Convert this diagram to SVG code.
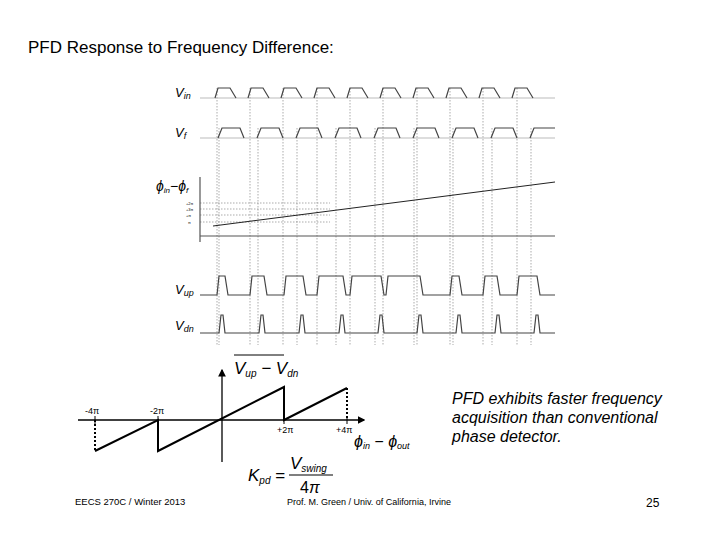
<svg xmlns="http://www.w3.org/2000/svg" width="720" height="540" viewBox="0 0 720 540">
<style>
text{font-family:"Liberation Sans",Arial,sans-serif;fill:#000}
.w{fill:none;stroke:#444;stroke-width:1.2}
.b{fill:none;stroke:#bbb;stroke-width:1}
.d{fill:none;stroke:#888;stroke-width:0.7;stroke-dasharray:1.5 1.5}
.k{fill:none;stroke:#000;stroke-width:2}
.i{font-style:italic}
</style>
<defs>
<marker id="ar" markerWidth="6" markerHeight="6" refX="5" refY="3" orient="auto"><path d="M0,0L6,3L0,6z" fill="#000"/></marker>
</defs>
<rect width="720" height="540" fill="#fff"/>
<text x="28" y="53" font-size="17">PFD Response to Frequency Difference:</text>
<g id="guides">
<path class="d" d="M217,88V345M250,88V345M283,88V345M317,88V345M350,88V345M383,88V345M417,88V345M450,88V345M483,88V345M517,88V345M219,128V345M258,128V345M297,128V345M336,128V345M375,128V345M414,128V345M453,128V345M492,128V345M531,128V345"/>
<path class="d" d="M200,203H330M200,209H330M200,215H330M200,222H330"/>
</g>
<g id="vin">
<text x="175" y="97" font-size="13" class="i">V<tspan font-size="9" dy="2">in</tspan></text>
<path class="b" d="M200,98H555"/>
<path class="w" d="M215,98L218,88H230L236,98M248,98L251,88H263L269,98M281,98L284,88H296L302,98M314,98L317,88H329L335,98M347,98L350,88H362L368,98M380,98L383,88H395L401,98M413,98L416,88H428L434,98M446,98L449,88H461L467,98M479,98L482,88H494L500,98M512,98L515,88H527L533,98"/>
</g>
<g id="vf">
<text x="175" y="137" font-size="13" class="i">V<tspan font-size="9" dy="2">f</tspan></text>
<path class="b" d="M200,138H555"/>
<path class="w" d="M218,138L222,128H240L244,138M257,138L261,128H279L283,138M296,138L300,128H318L322,138M335,138L339,128H357L361,138M374,138L378,128H396L400,138M413,138L417,128H435L439,138M452,138L456,128H474L478,138M491,138L495,128H513L517,138M530,138L534,128H555"/>
</g>
<g id="phase">
<text x="156" y="191" font-size="14" class="i">ϕ<tspan font-size="8" dy="2">in</tspan><tspan dy="-2" font-size="14">−ϕ</tspan><tspan font-size="8" dy="2">f</tspan></text>
<path d="M200,177V242M200,236H555" stroke="#555" stroke-width="1.2" fill="none"/>
<path d="M213,226L555,182" stroke="#222" stroke-width="1" fill="none"/>
<text x="186" y="205" font-size="4">+2π</text><text x="186" y="211" font-size="4">+3π</text><text x="186" y="217" font-size="4">+π</text><text x="188" y="224" font-size="4">π</text>
</g>
<g id="vup">
<text x="175" y="294" font-size="13" class="i">V<tspan font-size="9" dy="2">up</tspan></text>
<path class="w" d="M200,295H217L219,276H225L228,295H250L252,276H264L267,295H284L286,276H303L306,295H317L319,276H343L346,295H350L352,276H381L384,295H386L388,276H420L423,295H450L452,276H459L462,295H483L485,276H497L500,295H517L519,276H537L540,295H555"/>
</g>
<g id="vdn">
<text x="175" y="330" font-size="13" class="i">V<tspan font-size="9" dy="2">dn</tspan></text>
<path class="w" d="M200,333H219L221,315H223L225,333H259L261,315H263L265,333H299L301,315H303L305,333H339L341,315H343L345,333H378L380,315H382L384,333H417L419,315H421L423,333H456L458,315H460L462,333H495L497,315H499L501,333H534L536,315H538L540,333H555"/>
</g>
<g id="sawtooth">
<path d="M78,420H364" stroke="#000" stroke-width="1.3" marker-end="url(#ar)"/>
<path d="M222,462V370" stroke="#000" stroke-width="1.3" marker-end="url(#ar)"/>
<path class="k" d="M95,451L158,420V451L284,387V420L347,388"/>
<path d="M95,420V451M347,388V420" stroke="#000" stroke-width="2" stroke-dasharray="2 2"/>
<path d="M95,416V424M158,416V424M284,416V424M347,416V424" stroke="#000"/>
<text x="85" y="414" font-size="9">-4π</text>
<text x="150" y="414" font-size="9">-2π</text>
<text x="277" y="433" font-size="9">+2π</text>
<text x="336" y="433" font-size="9">+4π</text>
<text x="354" y="447" font-size="16" class="i">ϕ<tspan font-size="9" dy="2">in</tspan><tspan dy="-2" font-size="16"> − ϕ</tspan><tspan font-size="9" dy="2">out</tspan></text>
<path d="M234,355H284" stroke="#000"/>
<text x="234" y="374" font-size="17" class="i">V<tspan font-size="10" dy="3">up</tspan><tspan dy="-3"> − V</tspan><tspan font-size="10" dy="3">dn</tspan></text>
<text x="248" y="481" font-size="17" class="i">K<tspan font-size="10" dy="3">pd</tspan><tspan dy="-3" font-style="normal"> =</tspan></text>
<path d="M289,475H333" stroke="#000" stroke-width="1.2"/>
<text x="290" y="469" font-size="17" class="i">V<tspan font-size="10" dy="3">swing</tspan></text>
<text x="300" y="493" font-size="16">4<tspan class="i">π</tspan></text>
</g>
<text x="452" y="404" font-size="16" class="i">PFD exhibits faster frequency</text>
<text x="452" y="423" font-size="16" class="i">acquisition than conventional</text>
<text x="452" y="442" font-size="16" class="i">phase detector.</text>
<text x="75" y="505" font-size="9.5">EECS 270C / Winter 2013</text>
<text x="287" y="505" font-size="9">Prof. M. Green / Univ. of California, Irvine</text>
<text x="646" y="507" font-size="12">25</text>
</svg>
